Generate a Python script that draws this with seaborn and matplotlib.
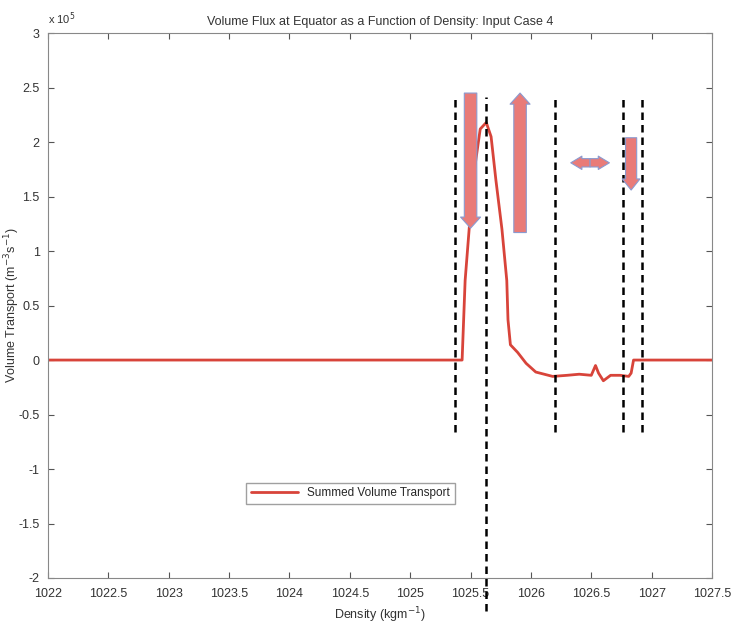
import numpy as np
import pandas as pd
import matplotlib
matplotlib.use("Agg")
import matplotlib.pyplot as plt
import seaborn as sb
from matplotlib.patches import FancyArrowPatch
from matplotlib.ticker import FuncFormatter

# density (kg m^-3) and summed volume transport (m^3 s^-1)
density = [1022.0, 1025.40, 1025.43, 1025.455, 1025.52, 1025.58, 1025.63, 1025.67,
           1025.71, 1025.76, 1025.80, 1025.81, 1025.83, 1025.89, 1025.96, 1026.04,
           1026.18, 1026.30, 1026.40, 1026.50, 1026.535, 1026.56, 1026.60, 1026.66,
           1026.74, 1026.81, 1026.83, 1026.85, 1027.5]
transport = [0.0, 0.0, 0.0, 0.73e5, 1.65e5, 2.12e5, 2.18e5, 2.05e5,
             1.65e5, 1.2e5, 0.73e5, 0.37e5, 0.14e5, 0.07e5, -0.03e5, -0.11e5,
             -0.15e5, -0.14e5, -0.13e5, -0.14e5, -0.05e5, -0.12e5, -0.19e5, -0.14e5,
             -0.14e5, -0.15e5, -0.12e5, 0.0, 0.0]

# dashed boundaries (x, ymin, ymax)
bound_x = [1025.37, 1025.63, 1026.20, 1026.76, 1026.92]
bound_lo = [-0.66e5, -2.3e5, -0.66e5, -0.66e5, -0.66e5]
bound_hi = [2.41e5, 2.41e5, 2.41e5, 2.41e5, 2.41e5]

# arrows (start -> end, in data units)
arrows = [((1025.50, 2.45e5), (1025.50, 1.21e5)),
          ((1025.91, 1.17e5), (1025.91, 2.45e5)),
          ((1026.49, 1.81e5), (1026.33, 1.81e5)),
          ((1026.49, 1.81e5), (1026.65, 1.81e5)),
          ((1026.83, 2.04e5), (1026.83, 1.56e5))]
arrow_w = [9, 9, 6, 6, 8]

df = pd.DataFrame({"density": density, "transport": transport})

sb.set_style("ticks")
plt.rcParams["font.family"] = ["Liberation Sans", "DejaVu Sans"]
plt.rcParams["font.size"] = 9
plt.rcParams["axes.unicode_minus"] = False

fig = plt.figure(figsize=(7.32, 6.25), dpi=100)
ax = fig.add_axes([0.0656, 0.0752, 0.9071, 0.8718])

sb.lineplot(data=df, x="density", y="transport", color="#d8443a", lw=2,
            label="Summed Volume Transport", ax=ax)

for bx, lo, hi in zip(bound_x, bound_lo, bound_hi):
    ax.plot([bx, bx], [lo, hi], color="black", lw=1.8, ls=(0, (3, 2)), clip_on=False, zorder=3)

for (s, e), w in zip(arrows, arrow_w):
    p = FancyArrowPatch(s, e, arrowstyle="simple,head_width=%.1f,head_length=8,tail_width=%.1f" % (w * 1.6, w),
                        mutation_scale=1, shrinkA=0, shrinkB=0,
                        facecolor="#e97b78", edgecolor="#8a9ad0", lw=0.8, zorder=4)
    ax.add_patch(p)

ax.set_xlim(1022, 1027.5)
ax.set_ylim(-2e5, 3e5)
ax.set_xticks(np.arange(1022, 1027.51, 0.5))
ax.set_xticklabels(["1022", "1022.5", "1023", "1023.5", "1024", "1024.5", "1025",
                    "1025.5", "1026", "1026.5", "1027", "1027.5"])
ax.set_yticks(np.arange(-2e5, 3.01e5, 0.5e5))
ax.yaxis.set_major_formatter(FuncFormatter(lambda v, p: "%g" % (v / 1e5)))
ax.text(0.0, 1.012, "x 10$^5$", transform=ax.transAxes, fontsize=8, color="#333333", va="bottom")

ax.tick_params(direction="in", top=True, right=True, length=4, colors="#555555", labelcolor="#333333")
ax.tick_params(axis="x", pad=7)
ax.tick_params(axis="y", pad=6)
for sp in ax.spines.values():
    sp.set_visible(True)
    sp.set_color("#888888")

ax.set_title("Volume Flux at Equator as a Function of Density: Input Case 4", fontsize=9, color="#333333")
ax.set_xlabel("Density (kgm$^{-1}$)", color="#333333")
ax.set_ylabel("Volume Transport (m$^{-3}$s$^{-1}$)", color="#333333")
ax.yaxis.set_label_coords(-0.039, 0.5)

ax.legend(loc="lower left", bbox_to_anchor=(0.289, 0.125), fancybox=False, edgecolor="#888888",
          fontsize=8.5, handlelength=4)

fig.savefig("out.png", dpi=100)
